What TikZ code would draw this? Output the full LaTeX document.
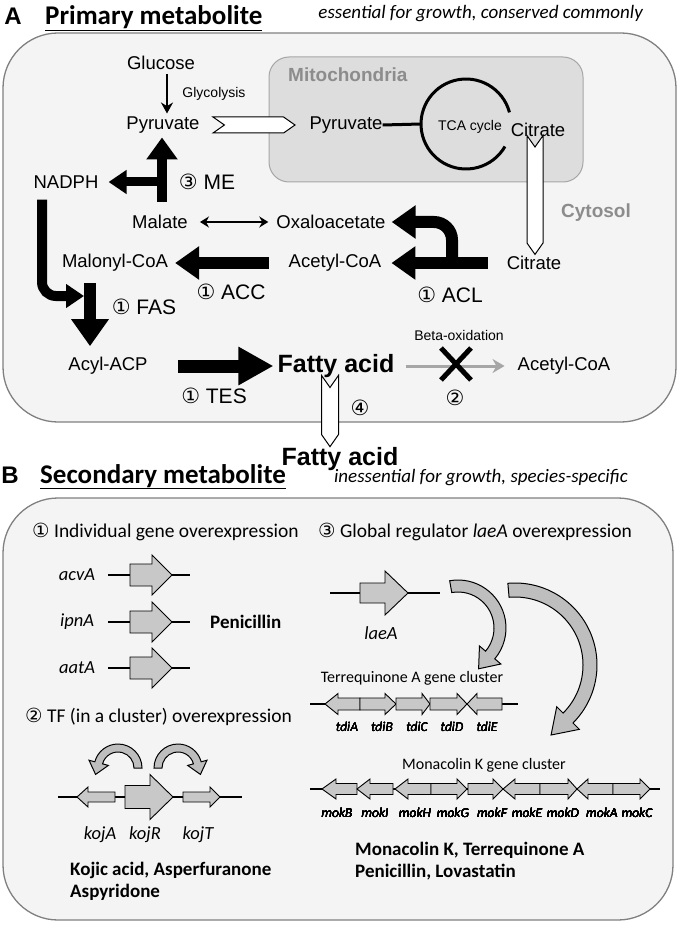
\documentclass[tikz,border=0pt]{standalone}
\usepackage{fontspec}
\setmainfont{Carlito}
\newfontfamily\arialf{Liberation Sans}
\newfontfamily\circf{DejaVu Sans}
\usetikzlibrary{arrows.meta,calc,shapes.symbols}

\definecolor{boxfill}{HTML}{F4F4F4}
\definecolor{boxline}{HTML}{808080}
\definecolor{mitofill}{HTML}{DDDDDD}
\definecolor{mitoline}{HTML}{A6A6A6}
\definecolor{labgray}{HTML}{8C8C8C}
\definecolor{genefill}{HTML}{C8C8C8}
\definecolor{bentfill}{HTML}{BEBEBE}
\definecolor{betagray}{HTML}{A6A6A6}

% gene arrow: body end, head base, tip, y, body half height, head half height
\newcommand{\gene}[6]{%
  \filldraw[gene] (#1,#4-#5) -- (#2,#4-#5) -- (#2,#4-#6) -- (#3,#4)
    -- (#2,#4+#6) -- (#2,#4+#5) -- (#1,#4+#5) -- cycle;}
% bent block arrow: centre x, centre y, radius, half band, start, end, head half width, head length
\newcommand{\bentarrow}[8]{%
  \pgfmathsetmacro{\bro}{#3+#4}%
  \pgfmathsetmacro{\bri}{#3-#4}%
  \pgfmathsetmacro{\bdir}{#6>#5 ? 90 : -90}%
  \filldraw[bent] ($(#1,#2)+(#5:\bro)$) arc[start angle=#5, end angle=#6, radius=\bro]
    -- ($(#1,#2)+(#6:#3+#7)$) -- ($(#1,#2)+(#6:#3)+(#6+\bdir:#8)$)
    -- ($(#1,#2)+(#6:#3-#7)$) -- ($(#1,#2)+(#6:\bri)$)
    arc[start angle=#6, end angle=#5, radius=\bri] -- cycle;}

\begin{document}
\begin{tikzpicture}[
		x=1pt,y=-1pt,
		>=stealth,
		metab/.style={font=\arialf\fontsize{18.5}{20}\selectfont,inner sep=0pt},
		minor/.style={font=\arialf\fontsize{14}{16}\selectfont,inner sep=0pt},
		enzyme/.style={font=\arialf\fontsize{21}{24}\selectfont,inner sep=0pt},
		fatty/.style={font=\arialf\bfseries\fontsize{25}{28}\selectfont,inner sep=0pt},
		compart/.style={font=\arialf\bfseries\fontsize{19}{22}\selectfont,text=labgray,inner sep=0pt},
		panel/.style={font=\arialf\bfseries\fontsize{24}{26}\selectfont,inner sep=0pt,anchor=base},
		heading/.style={font=\bfseries\fontsize{27}{30}\selectfont,inner sep=0pt,anchor=base west},
		remark/.style={font=\itshape\fontsize{19}{22}\selectfont,inner sep=0pt,anchor=base east},
		strategy/.style={font=\fontsize{19.5}{22}\selectfont,inner sep=0pt,anchor=west},
		genename/.style={font=\itshape\fontsize{18.5}{20}\selectfont,inner sep=0pt},
		tinygene/.style={font=\itshape\fontsize{13.5}{15}\selectfont,inner sep=0pt},
		cluster/.style={font=\fontsize{16}{18}\selectfont,inner sep=0pt},
		product/.style={font=\bfseries\fontsize{19}{22}\selectfont,inner sep=0pt,anchor=west,align=left},
		panelbox/.style={draw=boxline,fill=boxfill,line width=1.3pt,rounded corners=55pt},
		mitobox/.style={draw=mitoline,fill=mitofill,line width=1pt,rounded corners=20pt},
		hollow/.style={signal,draw,fill=white,line width=1pt,inner sep=0pt,signal pointer angle=70},
		thinarrow/.style={line width=2.5pt,-{Stealth[length=11pt,width=12pt]}},
		twoway/.style={line width=2pt,{Stealth[length=9pt,width=11pt]}-{Stealth[length=9pt,width=11pt]}},
		fatarrow/.style={line width=12pt,-{Triangle[length=24pt,width=32pt]}},
		tesarrow/.style={line width=13pt,-{Triangle[length=35pt,width=36pt]}},
		fasarrow/.style={line width=12pt,-{Triangle[length=27pt,width=36pt]}},
		mearrow/.style={line width=10pt,-{Triangle[length=22pt,width=30pt]}},
		nadarrow/.style={line width=9pt,-{Triangle[length=18pt,width=23pt]}},
		betaarrow/.style={draw=betagray,line width=3pt,-{Stealth[length=12pt,width=14pt]}},
		gene/.style={draw=black,fill=genefill,line width=0.9pt},
		geneline/.style={line width=1.2pt},
		bent/.style={draw=black,fill=bentfill,line width=1pt}
		]
		\useasboundingbox (0,0) rectangle (680,925);
		% panel A
		\draw[panelbox] (3,33) rectangle (676,422);
		\draw[mitobox] (269,57) rectangle (583,182);
		\node[panel] (A) at (13,25) {A};
		\node[heading] (primary) at (45,25) {\underline{Primary metabolite}};
		\node[remark] (essential) at (643,19) {essential for growth, conserved commonly};
		\node[compart,anchor=west] (mito) at (288,75) {Mitochondria};
		\node[compart] (cytosol) at (596,213) {Cytosol};
		\node[metab] (glucose) at (161,63) {Glucose};
		\node[minor] (glyco) at (214,94) {Glycolysis};
		\node[metab] (pyr1) at (163,125) {Pyruvate};
		\node[metab] (pyr2) at (346,125) {Pyruvate};
		\coordinate (tca) at (466,124);
		\node[minor] (tcatext) at (470,127) {TCA cycle};
		\node[metab] (cit1) at (538,130) {Citrate};
		\node[metab] (nadph) at (66,182) {NADPH};
		\node[enzyme] (me) at (207,182) {{\circf ③} ME};
		\node[metab] (malate) at (160,222) {Malate};
		\node[metab] (oaa) at (331,222) {Oxaloacetate};
		\node[metab] (malonyl) at (115,263) {Malonyl-CoA};
		\node[metab] (acetyl1) at (335,263) {Acetyl-CoA};
		\node[metab] (cit2) at (534,263) {Citrate};
		\node[enzyme] (acc) at (231,292) {{\circf ①} ACC};
		\node[enzyme] (acl) at (450,295) {{\circf ①} ACL};
		\node[enzyme] (fas) at (144,307) {{\circf ①} FAS};
		\node[metab] (acyl) at (108,366) {Acyl-ACP};
		\node[fatty] (fatty1) at (336,366) {Fatty acid};
		\node[metab] (acetyl2) at (564,366) {Acetyl-CoA};
		\node[minor] (betaox) at (459,335) {Beta-oxidation};
		\node[enzyme] (tes) at (214,396) {{\circf ①} TES};
		\node[enzyme] (step2) at (455,398) {{\circf ②}};
		\node[enzyme] (step4) at (360,408) {{\circf ④}};
		\node[fatty] (fatty2) at (340,459) {Fatty acid};
		% transport
		\node[hollow,signal to=east,signal from=west,minimum width=82pt,minimum height=16pt] (pyrport) at (254,125) {};
		\node[hollow,signal to=south,signal from=north,minimum width=16pt,minimum height=96pt] (citport) at (535,195) {};
		\node[hollow,signal to=south,signal from=north,minimum width=17pt,minimum height=47pt] (fatport) at (330,411) {};
		% TCA cycle
		\draw[line width=3pt] ($(tca)+(-15:45)$) arc[start angle=-15, end angle=-330, radius=45];
		\draw[line width=3pt] (pyr2.east) -- ($(tca)+(-45,0)$);
		% reactions
		\draw[thinarrow,shorten <=4pt,shorten >=3pt] ([xshift=6pt]glucose.south) -- ([xshift=6pt]glucose.south |- pyr1.north);
		\draw[twoway,shorten <=12pt,shorten >=8pt] (malate.east) -- (oaa.west);
		\coordinate (mebase) at (162,202);
		\draw[mearrow,shorten >=4pt] (mebase) -- (mebase |- pyr1.south);
		\draw[nadarrow,shorten >=10pt] ([xshift=5pt]mebase |- nadph.center) -- (nadph.east);
		\draw[fatarrow,shorten <=20pt,shorten >=7pt] (acetyl1.west) -- (malonyl.east);
		\draw[fatarrow,shorten <=19pt,shorten >=10pt] (cit2.west) -- (acetyl1.east);
		\coordinate (aclfork) at (452,263);
		\draw[fatarrow,rounded corners=18pt,shorten >=6pt] (aclfork) |- (oaa.east);
		\coordinate (fastop) at (90,283);
		\draw[fasarrow,shorten >=11pt] (fastop) -- (fastop |- acyl.north);
		\coordinate (fasjoin) at (84,296);
		\draw[nadarrow,line width=10pt,rounded corners=14pt,shorten <=11pt] ([xshift=-24pt]nadph.south) |- (fasjoin);
		\draw[tesarrow,shorten <=30pt,shorten >=4pt] (acyl.east) -- (fatty1.west);
		\draw[betaarrow,shorten <=11pt,shorten >=13pt] (fatty1.east) -- (acetyl2.west);
		\coordinate (block) at (456,364);
		\draw[line width=5pt] ($(block)+(-15,-16)$) -- ($(block)+(15,16)$);
		\draw[line width=5pt] ($(block)+(15,-16)$) -- ($(block)+(-15,16)$);
		% panel B
		\draw[panelbox] (3,498) rectangle (673,920);
		\node[panel] (B) at (10,483) {B};
		\node[heading] (secondary) at (40,483) {\underline{Secondary metabolite}};
		\node[remark] (inessential) at (628,482) {inessential for growth, species-specific};
		\node[strategy] (single) at (32,532) {{\circf ①} Individual gene overexpression};
		\node[strategy] (global) at (318,532) {{\circf ③} Global regulator \textit{laeA} overexpression};
		\node[strategy] (tf) at (25,717) {{\circf ②} TF (in a cluster) overexpression};
		% individual genes
		\foreach \g/\y in {acvA/575,ipnA/622,aatA/668}{
			\draw[geneline] (108,\y) -- (190,\y);
			\gene{130}{152}{172}{\y}{11}{20}
			\node[genename] (\g) at (77,\y) {\g};
		}
		\node[product] (penicillin) at (210,622) {Penicillin};
		% kojR cluster
		\draw[geneline] (58,797) -- (242,797);
		\gene{115}{88}{77}{797}{5}{10}
		\gene{125}{150}{173}{797}{11.5}{22.5}
		\gene{183}{210}{220}{797}{5}{10}
		\bentarrow{118}{768}{20}{4}{0}{-165}{10}{12}
		\bentarrow{178}{768}{20}{4}{180}{345}{10}{12}
		\node[genename] (kojA) at (100,835) {kojA};
		\node[genename] (kojR) at (145,835) {kojR};
		\node[genename] (kojT) at (198,835) {kojT};
		\node[product] (kojic) at (70,881) {Kojic acid, Asperfuranone\\Aspyridone};
		% laeA
		\draw[geneline] (330,593) -- (440,593);
		\gene{360}{385}{408}{593}{10}{22}
		\node[genename] (laeA) at (381,633) {laeA};
		\bentarrow{458}{628}{42}{6}{-100}{40}{14}{18}
		\bentarrow{515}{665}{75}{7}{-95}{45}{16}{24}
		% terrequinone cluster
		\node[cluster] (terr) at (412,678) {Terrequinone A gene cluster};
		\draw[geneline] (310,704) -- (518,704);
		\foreach \a/\b/\c in {360/338/325,360/385/396,396/422/430,430/457/467,502/477/467}
			\gene{\a}{\b}{\c}{704}{6}{10.5}
		\foreach \n/\x in {A/347,B/382,C/417,D/452,E/487}
			\node[tinygene] (tdi\n) at (\x,727) {tdi\n};
		% monacolin cluster
		\node[cluster] (monk) at (484,765) {Monacolin K gene cluster};
		\draw[geneline] (310,789) -- (660,789);
		\foreach \a/\b/\c in {357/336/322,393/370/357,431/408/395,431/457/467,468/493/503,540/515/503,540/568/577,613/588/577,613/640/650}
			\gene{\a}{\b}{\c}{789}{5.5}{10}
		\foreach \n/\x in {B/337,I/375,H/415,G/453,F/492,E/527,D/563,A/602,C/637}
			\node[tinygene] (mok\n) at (\x,813) {mok\n};
		\node[product] (monres) at (355,861) {Monacolin K, Terrequinone A\\Penicillin, Lovastatin};
		\end{tikzpicture}
\end{document}
